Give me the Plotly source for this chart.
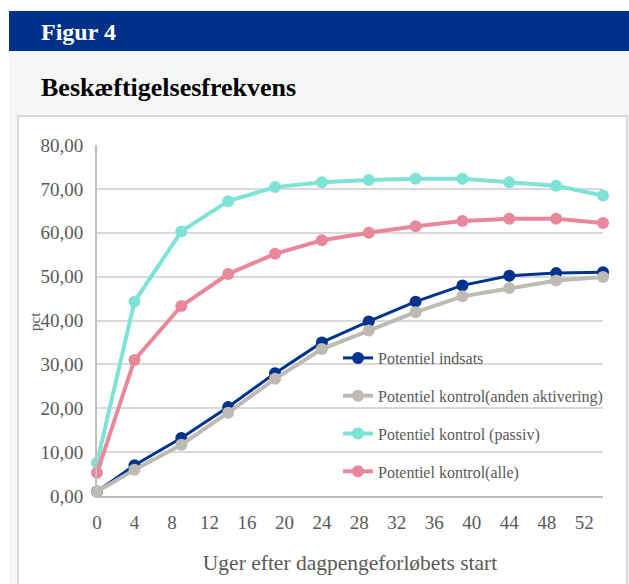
import plotly.graph_objects as go

# ---- data ----
weeks = [0, 4, 9, 14, 19, 24, 29, 34, 39, 44, 49, 54]
indsats = [1.0, 7.0, 13.2, 20.3, 28.0, 35.0, 39.8, 44.3, 48.0, 50.2, 50.8, 51.0]
anden = [1.0, 6.0, 11.7, 19.0, 26.7, 33.5, 37.7, 41.9, 45.5, 47.4, 49.1, 49.9]
passiv = [7.6, 44.3, 60.3, 67.2, 70.4, 71.5, 72.0, 72.3, 72.3, 71.5, 70.7, 68.5]
alle = [5.3, 31.0, 43.3, 50.6, 55.2, 58.3, 60.0, 61.5, 62.7, 63.2, 63.2, 62.2]

series_names = ["Potentiel indsats", "Potentiel kontrol(anden aktivering)",
                "Potentiel kontrol (passiv)", "Potentiel kontrol(alle)"]
series_values = [indsats, anden, passiv, alle]
series_colors = ["#00338D", "#BEBAB4", "#7EE3D6", "#E8889A"]

x_tickvals = [0, 4, 8, 12, 16, 20, 24, 28, 32, 36, 40, 44, 48, 52]
y_tickvals = [0, 10, 20, 30, 40, 50, 60, 70, 80]
y_ticktext = ["0,00", "10,00", "20,00", "30,00", "40,00", "50,00", "60,00", "70,00", "80,00"]

# ---- layout geometry ----
W, H = 629, 584
L, R, T, B = 97, 26, 145, 88
PW, PH = W - L - R, H - T - B


def px(x):
    return (x - L) / PW


def py(y):
    return (H - B - y) / PH


SERIF = "Liberation Serif, Times New Roman, serif"
GREY_TXT = "#595959"

fig = go.Figure()
widths = [3, 4, 4, 4]
for name, vals, col, w in zip(series_names, series_values, series_colors, widths):
    fig.add_trace(go.Scatter(
        x=weeks, y=vals, name=name, mode="lines+markers",
        line=dict(color=col, width=w),
        marker=dict(color=col, size=12),
        legendgroup=name,
        cliponaxis=False,
    ))

shapes = [
    # light grey page area
    dict(type="rect", xref="paper", yref="paper", x0=px(9), x1=px(640), y0=py(600), y1=py(51),
         fillcolor="#F5F7F7", line=dict(width=0), layer="below"),
    # header bar
    dict(type="rect", xref="paper", yref="paper", x0=px(9), x1=px(640), y0=py(51), y1=py(11),
         fillcolor="#00318A", line=dict(width=0), layer="below"),
    # white chart box
    dict(type="rect", xref="paper", yref="paper", x0=px(18), x1=px(627), y0=py(600), y1=py(116),
         fillcolor="white", line=dict(color="#D9D9D9", width=2), layer="below"),
]

annotations = [
    dict(text="<b>Figur 4</b>", xref="paper", yref="paper", x=px(39), y=py(32),
         xanchor="left", yanchor="middle", showarrow=False,
         font=dict(family=SERIF, size=24, color="white")),
    dict(text="<b>Beskæftigelsesfrekvens</b>", xref="paper", yref="paper", x=px(39), y=py(87),
         xanchor="left", yanchor="middle", showarrow=False,
         font=dict(family=SERIF, size=26, color="black")),
    dict(text="pct", xref="paper", yref="paper", x=px(35), y=py(322),
         xanchor="center", yanchor="middle", showarrow=False, textangle=-90,
         font=dict(family=SERIF, size=15, color=GREY_TXT)),
]

fig.update_layout(
    width=W, height=H,
    margin=dict(l=L, r=R, t=T, b=B, pad=0),
    paper_bgcolor="white",
    plot_bgcolor="rgba(0,0,0,0)",
    shapes=shapes,
    annotations=annotations,
    font=dict(family=SERIF, color=GREY_TXT),
    legend=dict(
        x=px(338), y=py(341), xanchor="left", yanchor="top",
        bgcolor="rgba(0,0,0,0)", font=dict(family=SERIF, size=16, color=GREY_TXT),
        tracegroupgap=14, itemwidth=30,
    ),
    showlegend=True,
)

fig.update_xaxes(
    range=[0, 54], tickvals=x_tickvals, showgrid=False, zeroline=False,
    showline=True, linecolor="#BFBFBF", linewidth=2,
    ticks="", tickfont=dict(family=SERIF, size=19, color=GREY_TXT),
    ticklabelstandoff=8,
    title=dict(text="Uger efter dagpengeforløbets start",
               font=dict(family=SERIF, size=21.5, color=GREY_TXT), standoff=23),
)
fig.update_yaxes(
    range=[0, 80], tickvals=y_tickvals, ticktext=y_ticktext,
    showgrid=True, gridcolor="#D9D9D9", gridwidth=2, zeroline=False,
    showline=True, linecolor="#BFBFBF", linewidth=2,
    ticks="", tickfont=dict(family=SERIF, size=19, color=GREY_TXT),
    ticklabelstandoff=8,
)

fig.write_html("out.html", config={"displayModeBar": False},
               post_script="document.body.style.margin='0px';")
